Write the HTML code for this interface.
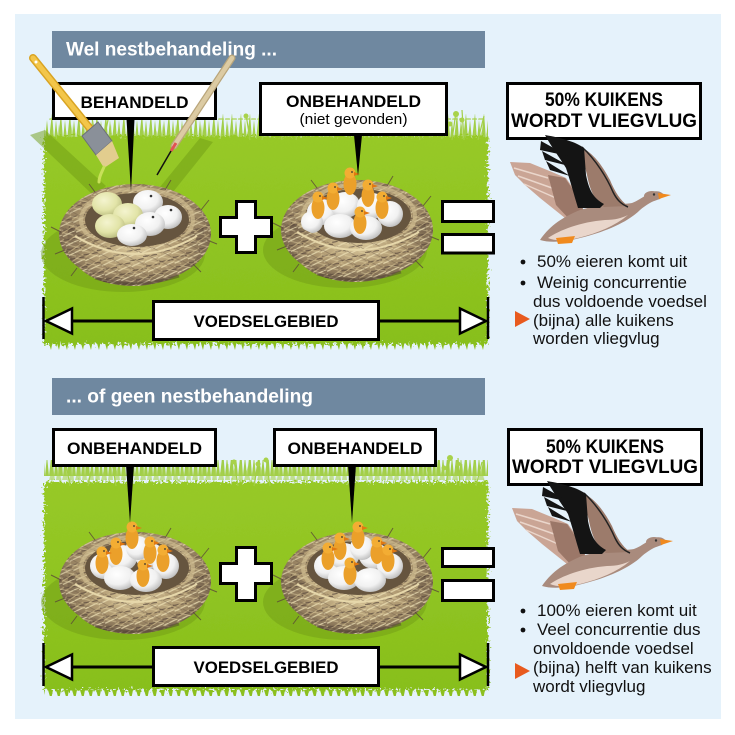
<!DOCTYPE html>
<html><head><meta charset="utf-8"><style>
html,body{margin:0;padding:0;background:#fff;width:735px;height:735px;overflow:hidden}
svg{display:block}
text{font-family:"Liberation Sans",Arial,sans-serif}
</style></head><body>
<svg width="735" height="735" viewBox="0 0 735 735" xmlns="http://www.w3.org/2000/svg">
<defs>
  <filter id="rough" x="-4%" y="-10%" width="108%" height="120%">
    <feTurbulence type="fractalNoise" baseFrequency="0.45 0.45" numOctaves="2" seed="4"/>
    <feDisplacementMap in="SourceGraphic" scale="11" xChannelSelector="R" yChannelSelector="G"/>
  </filter>
  <linearGradient id="grassG" x1="0" y1="0" x2="0" y2="1">
    <stop offset="0" stop-color="#97c927"/>
    <stop offset="1" stop-color="#88bf1c"/>
  </linearGradient>
  <pattern id="blades" width="9" height="28" patternUnits="userSpaceOnUse">
    <path d="M0,28 L2,8 L4,28 Z M4,28 L7,1 L9,28 Z" fill="#95c82a"/>
  </pattern>
  <pattern id="blades2" width="13" height="24" patternUnits="userSpaceOnUse" x="4">
    <path d="M0,24 L3,4 L5,24 Z M6,24 L10,10 L12,24 Z" fill="#a8d24a"/>
  </pattern>
  <pattern id="bladesDn" width="8" height="10" patternUnits="userSpaceOnUse">
    <path d="M0,0 L3,10 L5,0 Z" fill="#8cc01f"/>
  </pattern>
  <radialGradient id="nestG" cx="0.5" cy="0.4" r="0.6">
    <stop offset="0" stop-color="#d8c69a"/>
    <stop offset="0.55" stop-color="#ad9770"/>
    <stop offset="1" stop-color="#6e5c48"/>
  </radialGradient>
  <pattern id="straw" width="14" height="10" patternUnits="userSpaceOnUse" patternTransform="rotate(-18)">
    <path d="M0,2 L14,0" stroke="#ece0b6" stroke-width="1.2"/>
    <path d="M0,6 L14,8" stroke="#54443a" stroke-width="1"/>
    <path d="M0,9 L14,5" stroke="#c9b587" stroke-width="1"/>
  </pattern>
  <pattern id="straw2" width="11" height="9" patternUnits="userSpaceOnUse" patternTransform="rotate(24)">
    <path d="M0,3 L11,1" stroke="#e6d6a6" stroke-width="1"/>
    <path d="M0,7 L11,8" stroke="#6a5846" stroke-width="0.8"/>
  </pattern>
  <radialGradient id="eggW" cx="0.4" cy="0.35" r="0.7">
    <stop offset="0" stop-color="#ffffff"/>
    <stop offset="0.6" stop-color="#f1f1f1"/>
    <stop offset="1" stop-color="#b9b9b9"/>
  </radialGradient>
  <radialGradient id="eggY" cx="0.4" cy="0.35" r="0.7">
    <stop offset="0" stop-color="#f4f4cf"/>
    <stop offset="0.6" stop-color="#e2e4a8"/>
    <stop offset="1" stop-color="#b7b97d"/>
  </radialGradient>
  <g id="nestBack">
    <ellipse cx="-12" cy="22" rx="82" ry="38" fill="#6f9a16" opacity="0.45"/>
    <ellipse cx="0" cy="2" rx="76" ry="50" fill="url(#nestG)"/>
    <ellipse cx="0" cy="2" rx="76" ry="50" fill="url(#straw)" opacity="0.7"/>
    <ellipse cx="0" cy="2" rx="76" ry="50" fill="url(#straw2)" opacity="0.5"/>
    <ellipse cx="2" cy="-12" rx="52" ry="27" fill="#66553f"/>
    <ellipse cx="2" cy="-12" rx="56" ry="31" fill="none" stroke="#cdbb8f" stroke-width="4" opacity="0.7"/>
    <g stroke="#5a4838" stroke-width="1" fill="none" opacity="0.8">
      <path d="M-74,0 L-84,-5 M-70,18 L-80,22 M66,-22 L74,-32 M72,8 L82,12 M58,32 L66,40 M-58,36 L-64,44 M30,-42 L36,-52 M-40,-40 L-46,-48"/>
    </g>
  </g>
  <g id="nestFront">
    <path d="M-66,-6 Q0,36 68,-6 C74,20 52,52 0,54 C-50,54 -74,28 -66,-6 Z" fill="url(#nestG)"/>
    <path d="M-66,-6 Q0,36 68,-6 C74,20 52,52 0,54 C-50,54 -74,28 -66,-6 Z" fill="url(#straw)" opacity="0.8"/>
    <path d="M-66,-6 Q0,36 68,-6 C74,20 52,52 0,54 C-50,54 -74,28 -66,-6 Z" fill="url(#straw2)" opacity="0.5"/>
    <path d="M-60,4 Q0,40 62,4" fill="none" stroke="#e6d7aa" stroke-width="2"/>
    <path d="M-40,46 Q0,58 44,44" fill="none" stroke="#4f3f31" stroke-width="3" opacity="0.5"/>
  </g>
  <g id="chick">
    <ellipse cx="0" cy="11" rx="6.5" ry="11" fill="#eba02a"/>
    <circle cx="0" cy="0" r="5.5" fill="#f3ad33"/>
    <path d="M4,-1 L10,1 L4,3 Z" fill="#e07812"/>
    <circle cx="2" cy="-1" r="0.9" fill="#333"/>
  </g>
  <g id="goose">
    <path d="M510,162 L530,163 L552,172 L566,178 L578,195 L585,215 L570,222 L555,210 L540,198 L525,185 L515,175 Z" fill="#caa595"/>
    <path d="M514,168 L548,178 M518,176 L552,188 M524,184 L556,198" stroke="#ead6cb" stroke-width="1.5"/>
    <path d="M548,175 L565,178 L580,200 L585,215 L570,220 L556,205 Z" fill="#9b7768"/>
    <path d="M540,240 C548,228 560,218 580,210 C600,204 620,205 632,203 C640,200 645,195 652,192 C658,190 662,192 664,195 L660,199 C652,201 646,205 640,210 C628,222 605,232 580,238 C565,242 550,243 540,240 Z" fill="#a98b7d"/>
    <path d="M548,238 C560,230 580,222 605,220 C615,220 622,218 628,215 C615,226 598,233 578,238 C565,241 555,241 548,238 Z" fill="#e9d6cb"/>
    <path d="M580,146 C594,154 602,165 610,180 C615,192 620,200 628,206 L604,207 C594,200 590,190 587,175 Z" fill="#9c7b6b"/>
    <path d="M582,147 C596,160 607,178 613,192 C617,200 621,204 628,207" fill="none" stroke="#222" stroke-width="1.5"/>
    <path d="M545,135 C562,138 576,142 584,148 L586,175 C589,190 593,198 604,204 L600,208 L578,208 C574,195 570,180 566,168 C560,158 552,148 545,135 Z" fill="#141414"/>
    <path d="M541,141 L568,156 L540,150 Z M542,151 L569,166 L545,160 Z M546,161 L570,176 L550,170 Z" fill="#141414"/>
    <ellipse cx="652" cy="196" rx="8" ry="5" fill="#a98b7d"/>
    <circle cx="654" cy="194.5" r="1.2" fill="#333"/>
    <path d="M658,193 L671,195 L659,199 Z" fill="#f08a1e"/>
    <path d="M556,238 L575,236 L572,243 L558,244 Z" fill="#f08a1e"/>
  </g>
</defs>

<!-- panel -->
<rect x="15" y="14" width="706" height="705" fill="#e5f2fb"/>

<!-- ================= SECTION 1 ================= -->
<rect x="52" y="31" width="433" height="37" fill="#6f88a0"/>
<text x="66" y="55.5" font-size="19" font-weight="bold" fill="#fff" textLength="211" lengthAdjust="spacingAndGlyphs">Wel nestbehandeling ...</text>

<!-- grass 1 -->
<rect x="44" y="114" width="444" height="26" fill="url(#blades)" opacity="0.85"/>
<rect x="48" y="118" width="436" height="22" fill="url(#blades2)" opacity="0.6"/>
<rect x="44" y="342" width="444" height="8" fill="url(#bladesDn)"/>
<rect x="44" y="136" width="444" height="208" fill="url(#grassG)" filter="url(#rough)"/>
<g stroke="#a3cf45" stroke-width="1.2" fill="none">
  <path d="M96,140 L92,118 M104,140 L108,120 M250,140 L246,114 M262,140 L266,116 M282,140 L278,112 M296,140 L300,118 M420,140 L416,116 M452,140 L456,112 M464,140 L462,110 M478,140 L484,116"/>
</g>
<g fill="#a8d24a">
  <circle cx="246" cy="116" r="2.5"/><circle cx="266" cy="118" r="2.5"/><circle cx="278" cy="114" r="2.5"/>
  <circle cx="456" cy="114" r="3"/><circle cx="462" cy="120" r="2.5"/><circle cx="450" cy="124" r="2.5"/>
</g>
<!-- tool shadows -->
<polygon points="30,135 45,130 106,186 94,196" fill="#6f9c14" opacity="0.5"/>
<polygon points="200,138 213,142 173,192 160,187" fill="#6f9c14" opacity="0.5"/>

<!-- nest 1 with eggs -->
<g transform="translate(135,232)"><use href="#nestBack"/></g>
<g>
  <ellipse cx="107" cy="204" rx="15" ry="12" fill="url(#eggY)"/>
  <ellipse cx="148" cy="202" rx="15" ry="12" fill="url(#eggW)"/>
  <ellipse cx="168" cy="217" rx="14" ry="12" fill="url(#eggW)"/>
  <ellipse cx="128" cy="215" rx="15" ry="12" fill="url(#eggY)"/>
  <ellipse cx="110" cy="226" rx="15" ry="12" fill="url(#eggY)"/>
  <ellipse cx="150" cy="224" rx="15" ry="12" fill="url(#eggW)"/>
  <ellipse cx="132" cy="235" rx="15" ry="11" fill="url(#eggW)"/>
  <g fill="#333"><circle cx="151" cy="196" r="1.3"/><circle cx="171" cy="210" r="1.3"/><circle cx="153" cy="217" r="1.3"/><circle cx="134" cy="228" r="1.3"/></g>
</g>
<g transform="translate(135,232)"><use href="#nestFront"/></g>

<!-- nest 2 with chicks -->
<g transform="translate(357,228)"><use href="#nestBack"/></g>
<g fill="url(#eggW)">
  <ellipse cx="322" cy="212" rx="15" ry="13"/><ellipse cx="345" cy="205" rx="15" ry="13"/>
  <ellipse cx="372" cy="206" rx="15" ry="13"/><ellipse cx="390" cy="214" rx="13" ry="13"/>
  <ellipse cx="340" cy="226" rx="16" ry="12"/><ellipse cx="366" cy="228" rx="16" ry="12"/>
  <ellipse cx="312" cy="222" rx="11" ry="11"/>
</g>
<use href="#chick" x="350" y="173"/>
<use href="#chick" x="333" y="188"/>
<use href="#chick" x="318" y="197"/>
<use href="#chick" x="368" y="185"/>
<use href="#chick" x="382" y="197"/>
<use href="#chick" x="360" y="212"/>
<g transform="translate(357,228)"><use href="#nestFront"/></g>

<!-- label boxes 1 -->
<rect x="53.5" y="83.5" width="162" height="35" fill="#fff" stroke="#000" stroke-width="3"/>
<text x="134.5" y="108" font-size="17" font-weight="bold" text-anchor="middle" textLength="108" lengthAdjust="spacingAndGlyphs">BEHANDELD</text>
<polygon points="126.5,119 134.5,119 131,192" fill="#000"/>

<rect x="260.5" y="83.5" width="186" height="51" fill="#fff" stroke="#000" stroke-width="3"/>
<text x="353.5" y="107" font-size="17" font-weight="bold" text-anchor="middle" textLength="135" lengthAdjust="spacingAndGlyphs">ONBEHANDELD</text>
<text x="353.5" y="124" font-size="15" text-anchor="middle" textLength="108" lengthAdjust="spacingAndGlyphs">(niet gevonden)</text>
<polygon points="354,135 362,135 358,176" fill="#000"/>

<!-- brush (on top of box) -->
<line x1="33" y1="58" x2="92" y2="131" stroke="#d9a423" stroke-width="8" stroke-linecap="round"/>
<line x1="33" y1="58" x2="92" y2="131" stroke="#f3c64a" stroke-width="5" stroke-linecap="round"/>
<circle cx="36" cy="62" r="1.5" fill="#fff"/>
<polygon points="82,136 98,122 112,141 96,155" fill="#8a9099" stroke="#6b7079" stroke-width="1"/>
<polygon points="96,155 112,141 119,158 104,168" fill="#e2cd8e"/>
<path d="M104,167 C102,172 99,176 99,182" stroke="#c8e05a" stroke-width="3" fill="none" stroke-linecap="round"/>
<!-- pencil / needle -->
<line x1="232" y1="58" x2="174" y2="146" stroke="#b9a57a" stroke-width="7" stroke-linecap="round"/>
<line x1="232" y1="58" x2="174" y2="146" stroke="#dccba3" stroke-width="4.5" stroke-linecap="round"/>
<line x1="176" y1="143" x2="171" y2="151" stroke="#e05252" stroke-width="3"/>
<line x1="171" y1="151" x2="157" y2="175" stroke="#111" stroke-width="1.5"/>

<!-- plus / equals 1 -->
<path d="M236.5,201.5 H255.5 V217.5 H271.5 V236.5 H255.5 V252.5 H236.5 V236.5 H220.5 V217.5 H236.5 Z" fill="#fff" stroke="#000" stroke-width="3"/>
<rect x="442.5" y="201.5" width="51" height="20" fill="#fff" stroke="#000" stroke-width="3"/>
<rect x="442.5" y="234.5" width="51" height="18.5" fill="#fff" stroke="#000" stroke-width="3"/>

<!-- voedselgebied 1 -->
<line x1="43.5" y1="297" x2="43.5" y2="339" stroke="#000" stroke-width="2.5"/>
<line x1="488" y1="297" x2="488" y2="339" stroke="#000" stroke-width="2.5"/>
<line x1="46" y1="321" x2="486" y2="321" stroke="#000" stroke-width="3"/>
<polygon points="46,321 72,308.5 72,333.5" fill="#fff" stroke="#000" stroke-width="2.5"/>
<polygon points="486,321 460,308.5 460,333.5" fill="#fff" stroke="#000" stroke-width="2.5"/>
<rect x="153.5" y="301.5" width="225" height="38" fill="#fff" stroke="#000" stroke-width="3"/>
<text x="266" y="327" font-size="17" font-weight="bold" text-anchor="middle" textLength="145" lengthAdjust="spacingAndGlyphs">VOEDSELGEBIED</text>

<!-- right column 1 -->
<rect x="507.5" y="83.5" width="193" height="55" fill="#fff" stroke="#000" stroke-width="3"/>
<text x="604" y="106" font-size="19" font-weight="bold" text-anchor="middle" textLength="118" lengthAdjust="spacingAndGlyphs">50% KUIKENS</text>
<text x="604" y="127" font-size="19" font-weight="bold" text-anchor="middle" textLength="186" lengthAdjust="spacingAndGlyphs">WORDT VLIEGVLUG</text>
<use href="#goose"/>
<circle cx="523" cy="262" r="2.4" fill="#111"/>
<circle cx="523" cy="283" r="2.4" fill="#111"/>
<polygon points="515,311 530,319 515,327" fill="#e85a1e"/>
<g font-size="17" fill="#111">
  <text x="537" y="267">50% eieren komt uit</text>
  <text x="537" y="288">Weinig concurrentie</text>
  <text x="533" y="307">dus voldoende voedsel</text>
  <text x="533" y="326">(bijna) alle kuikens</text>
  <text x="533" y="344">worden vliegvlug</text>
</g>

<!-- ================= SECTION 2 ================= -->
<rect x="52" y="378" width="433" height="37" fill="#6f88a0"/>
<text x="66" y="402.5" font-size="19" font-weight="bold" fill="#fff" textLength="247" lengthAdjust="spacingAndGlyphs">... of geen nestbehandeling</text>

<!-- grass 2 -->
<rect x="44" y="460" width="444" height="26" fill="url(#blades)" opacity="0.85"/>
<rect x="48" y="464" width="436" height="22" fill="url(#blades2)" opacity="0.6"/>
<rect x="44" y="688" width="444" height="8" fill="url(#bladesDn)"/>
<rect x="44" y="482" width="444" height="208" fill="url(#grassG)" filter="url(#rough)"/>
<g stroke="#a3cf45" stroke-width="1.2" fill="none">
  <path d="M70,486 L66,464 M88,486 L92,466 M116,486 L112,462 M238,486 L234,460 M254,486 L258,462 M270,486 L266,458 M430,486 L426,460 M446,486 L450,456 M460,486 L458,458 M476,486 L482,462"/>
</g>
<g fill="#a8d24a">
  <circle cx="234" cy="462" r="2.5"/><circle cx="258" cy="464" r="2.5"/><circle cx="266" cy="460" r="2.5"/>
  <circle cx="450" cy="458" r="3"/><circle cx="458" cy="464" r="2.5"/><circle cx="444" cy="468" r="2.5"/>
</g>

<!-- nest A -->
<g transform="translate(135,580)"><use href="#nestBack"/></g>
<g fill="url(#eggW)">
  <ellipse cx="104" cy="566" rx="14" ry="13"/><ellipse cx="122" cy="558" rx="15" ry="13"/>
  <ellipse cx="150" cy="556" rx="15" ry="13"/><ellipse cx="166" cy="566" rx="13" ry="13"/>
  <ellipse cx="120" cy="578" rx="16" ry="12"/><ellipse cx="146" cy="580" rx="16" ry="12"/>
  <ellipse cx="138" cy="548" rx="12" ry="12"/>
</g>
<use href="#chick" x="132" y="527"/>
<use href="#chick" x="116" y="543"/>
<use href="#chick" x="102" y="552"/>
<use href="#chick" x="150" y="542"/>
<use href="#chick" x="163" y="550"/>
<use href="#chick" x="143" y="565"/>
<g transform="translate(135,580)"><use href="#nestFront"/></g>

<!-- nest B -->
<g transform="translate(357,580)"><use href="#nestBack"/></g>
<g fill="url(#eggW)">
  <ellipse cx="328" cy="566" rx="14" ry="13"/><ellipse cx="344" cy="556" rx="15" ry="13"/>
  <ellipse cx="374" cy="556" rx="15" ry="13"/><ellipse cx="390" cy="566" rx="13" ry="13"/>
  <ellipse cx="344" cy="578" rx="16" ry="12"/><ellipse cx="370" cy="580" rx="16" ry="12"/>
  <ellipse cx="362" cy="548" rx="12" ry="12"/>
</g>
<use href="#chick" x="358" y="527"/>
<use href="#chick" x="340" y="538"/>
<use href="#chick" x="328" y="548"/>
<use href="#chick" x="377" y="542"/>
<use href="#chick" x="388" y="550"/>
<use href="#chick" x="350" y="563"/>
<g transform="translate(357,580)"><use href="#nestFront"/></g>

<!-- label boxes 2 -->
<rect x="53.5" y="429.5" width="162" height="36" fill="#fff" stroke="#000" stroke-width="3"/>
<text x="134.5" y="454" font-size="17" font-weight="bold" text-anchor="middle" textLength="135" lengthAdjust="spacingAndGlyphs">ONBEHANDELD</text>
<polygon points="126,465 134,465 130,523" fill="#000"/>

<rect x="274.5" y="429.5" width="161" height="36" fill="#fff" stroke="#000" stroke-width="3"/>
<text x="355" y="454" font-size="17" font-weight="bold" text-anchor="middle" textLength="135" lengthAdjust="spacingAndGlyphs">ONBEHANDELD</text>
<polygon points="348,465 356,465 352,523" fill="#000"/>

<!-- plus / equals 2 -->
<path d="M236.5,547.5 H255.5 V563.5 H271.5 V583.5 H255.5 V600.5 H236.5 V583.5 H220.5 V563.5 H236.5 Z" fill="#fff" stroke="#000" stroke-width="3"/>
<rect x="442.5" y="548.5" width="51" height="18" fill="#fff" stroke="#000" stroke-width="3"/>
<rect x="442.5" y="580.5" width="51" height="20" fill="#fff" stroke="#000" stroke-width="3"/>

<!-- voedselgebied 2 -->
<line x1="43.5" y1="643" x2="43.5" y2="686" stroke="#000" stroke-width="2.5"/>
<line x1="488" y1="643" x2="488" y2="686" stroke="#000" stroke-width="2.5"/>
<line x1="46" y1="667" x2="486" y2="667" stroke="#000" stroke-width="3"/>
<polygon points="46,667 72,654.5 72,679.5" fill="#fff" stroke="#000" stroke-width="2.5"/>
<polygon points="486,667 460,654.5 460,679.5" fill="#fff" stroke="#000" stroke-width="2.5"/>
<rect x="153.5" y="647.5" width="225" height="38" fill="#fff" stroke="#000" stroke-width="3"/>
<text x="266" y="673" font-size="17" font-weight="bold" text-anchor="middle" textLength="145" lengthAdjust="spacingAndGlyphs">VOEDSELGEBIED</text>

<!-- right column 2 -->
<rect x="508.5" y="429.5" width="193" height="55" fill="#fff" stroke="#000" stroke-width="3"/>
<text x="605" y="453" font-size="19" font-weight="bold" text-anchor="middle" textLength="118" lengthAdjust="spacingAndGlyphs">50% KUIKENS</text>
<text x="605" y="473" font-size="19" font-weight="bold" text-anchor="middle" textLength="186" lengthAdjust="spacingAndGlyphs">WORDT VLIEGVLUG</text>
<use href="#goose" transform="translate(2,346)"/>
<circle cx="523" cy="611" r="2.4" fill="#111"/>
<circle cx="523" cy="630" r="2.4" fill="#111"/>
<polygon points="515,663 530,671 515,679" fill="#e85a1e"/>
<g font-size="17" fill="#111">
  <text x="537" y="616">100% eieren komt uit</text>
  <text x="537" y="635">Veel concurrentie dus</text>
  <text x="533" y="654">onvoldoende voedsel</text>
  <text x="533" y="673">(bijna) helft van kuikens</text>
  <text x="533" y="692">wordt vliegvlug</text>
</g>
</svg>
</body></html>
